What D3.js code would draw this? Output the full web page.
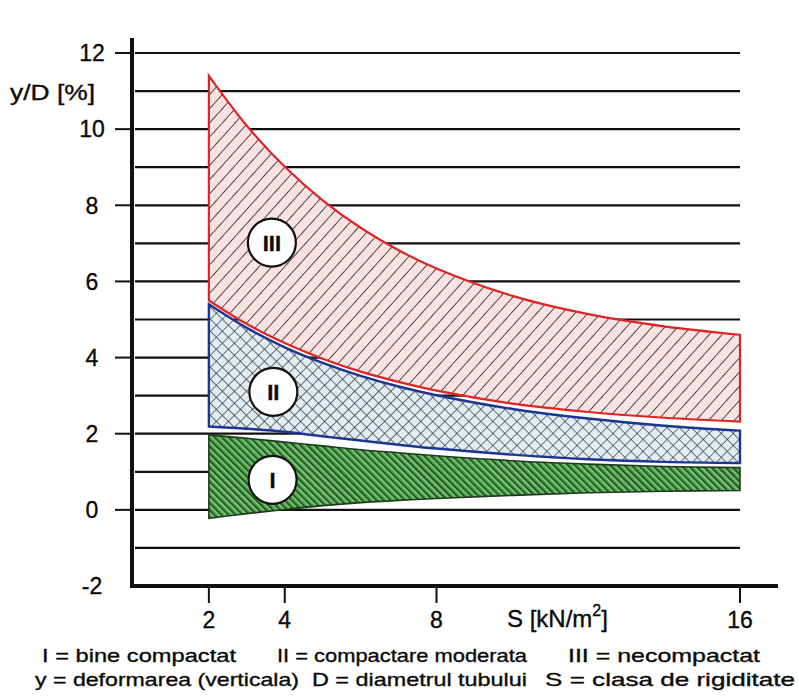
<!DOCTYPE html>
<html><head><meta charset="utf-8">
<script src="https://cdn.jsdelivr.net/npm/d3@7"></script>
<style>body{margin:0;background:#fff}svg{display:block}text{font-family:"Liberation Sans",Arial,sans-serif;fill:#0a0a0a;stroke:#0a0a0a;stroke-width:0.35}</style>
</head><body>
<svg id="c" width="798" height="698"></svg>
<script>
// ---- data ----
const sValues = [2, 3, 4, 5, 6, 7, 8, 10, 12, 14, 16];
const zoneIIITop = [11.4, 10.09, 9.01, 8.13, 7.41, 6.82, 6.34, 5.62, 5.14, 4.82, 4.6];
const zoneIIIBottom = [5.5, 4.88, 4.38, 3.97, 3.63, 3.36, 3.13, 2.79, 2.57, 2.42, 2.32];
const zoneIITop = [5.4, 4.78, 4.27, 3.86, 3.52, 3.24, 3.01, 2.65, 2.4, 2.21, 2.08];
const zoneIIBottom = [2.19, 2.13, 2.05, 1.93, 1.82, 1.71, 1.61, 1.45, 1.33, 1.26, 1.23];
const zoneITop = [1.97, 1.88, 1.78, 1.68, 1.58, 1.5, 1.42, 1.29, 1.2, 1.14, 1.11];
const zoneIBottom = [-0.22, -0.1, 0.01, 0.11, 0.19, 0.25, 0.3, 0.38, 0.45, 0.49, 0.51];
const zoneNames = ["I", "II", "III"];
const zoneLabelS = [3.68, 3.7, 3.66];
const zoneLabelY = [0.79, 3.1, 7.02];
const yTicks = [-2, 0, 2, 4, 6, 8, 10, 12];
const yGrid = [-1, 0, 1, 2, 3, 4, 5, 6, 7, 8, 9, 10, 11, 12];
const xTicks = [2, 4, 8, 16];
const legendRow1 = ["I = bine compactat", "II = compactare moderata", "III = necompactat"];
const legendRow2 = ["y = deformarea (verticala)", "D = diametrul tubului", "S = clasa de rigiditate"];

const svg = d3.select("#c");
const x = d3.scaleLinear().domain([0, 16]).range([133, 740]);
const y = d3.scaleLinear().domain([-2, 12]).range([586, 53]);

// patterns
const defs = svg.append("defs");
const p3 = defs.append("pattern").attr("id","hatch3").attr("patternUnits","userSpaceOnUse")
  .attr("width",9.5).attr("height",9.5).attr("patternTransform","rotate(42)");
p3.append("rect").attr("width",9.5).attr("height",9.5).attr("fill","#fbe2e2");
p3.append("line").attr("x1",0).attr("y1",0).attr("x2",0).attr("y2",9.5).attr("stroke","#222").attr("stroke-width",1.6);
const p2 = defs.append("pattern").attr("id","hatch2").attr("patternUnits","userSpaceOnUse")
  .attr("width",8.5).attr("height",8.5).attr("patternTransform","rotate(45)");
p2.append("rect").attr("width",8.5).attr("height",8.5).attr("fill","#e2ecf5");
p2.append("line").attr("x1",0).attr("y1",0).attr("x2",0).attr("y2",8.5).attr("stroke","#2a2a2a").attr("stroke-width",1.3);
p2.append("line").attr("x1",0).attr("y1",0).attr("x2",8.5).attr("y2",0).attr("stroke","#2a2a2a").attr("stroke-width",1.3);
const p1 = defs.append("pattern").attr("id","hatch1").attr("patternUnits","userSpaceOnUse")
  .attr("width",5).attr("height",5).attr("patternTransform","rotate(-45)");
p1.append("rect").attr("width",5).attr("height",5).attr("fill","#46a046");
p1.append("line").attr("x1",0).attr("y1",0).attr("x2",0).attr("y2",5).attr("stroke","#d2efc4").attr("stroke-width",1.2);
p1.append("line").attr("x1",2.5).attr("y1",0).attr("x2",2.5).attr("y2",5).attr("stroke","#1b3a1b").attr("stroke-width",1.1);

// grid
svg.append("g").selectAll("line").data(yGrid).join("line")
  .attr("x1", x(0)+2).attr("x2", x(16)).attr("y1", d=>y(d)).attr("y2", d=>y(d))
  .attr("stroke","#111").attr("stroke-width",2.2);

// zones
function zone(top, bottom){
  return d3.area().x((d,i)=>x(sValues[i])).y0((d,i)=>y(bottom[i])).y1((d,i)=>y(top[i])).curve(d3.curveCatmullRom.alpha(0.5))(sValues);
}
svg.append("path").attr("d", zone(zoneITop, zoneIBottom)).attr("fill","url(#hatch1)").attr("stroke","#1f3a1f").attr("stroke-width",1.6);
svg.append("path").attr("d", zone(zoneIITop, zoneIIBottom)).attr("fill","url(#hatch2)").attr("stroke","#1c3590").attr("stroke-width",2.4);
svg.append("path").attr("d", zone(zoneIIITop, zoneIIIBottom)).attr("fill","url(#hatch3)").attr("stroke","#e02424").attr("stroke-width",2.2);

// zone labels
const lg = svg.append("g").selectAll("g").data(zoneNames).join("g")
  .attr("transform",(d,i)=>`translate(${x(zoneLabelS[i])},${y(zoneLabelY[i])})`);
lg.append("circle").attr("r",24).attr("fill","#fff").attr("stroke","#111").attr("stroke-width",2.2);
lg.append("text").attr("text-anchor","middle").attr("dy","0.36em").attr("font-size",22).attr("font-weight","bold").text(d=>d);

// axes
svg.append("line").attr("x1",132).attr("x2",132).attr("y1",38).attr("y2",588).attr("stroke","#111").attr("stroke-width",4);
svg.append("line").attr("x1",130).attr("x2",778).attr("y1",586).attr("y2",586).attr("stroke","#111").attr("stroke-width",4);
svg.append("g").selectAll("line").data(yTicks.filter(d=>d>-2)).join("line")
  .attr("x1",115).attr("x2",132).attr("y1",d=>y(d)).attr("y2",d=>y(d)).attr("stroke","#111").attr("stroke-width",2);
svg.append("g").selectAll("text").data(yTicks).join("text")
  .attr("x",92).attr("y",d=>y(d)).attr("dy","0.36em").attr("text-anchor","middle").attr("font-size",23).text(d=>d);
svg.append("g").selectAll("line").data(xTicks).join("line")
  .attr("x1",d=>x(d)).attr("x2",d=>x(d)).attr("y1",588).attr("y2",603).attr("stroke","#111").attr("stroke-width",2);
svg.append("g").selectAll("text").data(xTicks).join("text")
  .attr("x",d=>x(d)).attr("y",628).attr("text-anchor","middle").attr("font-size",23).text(d=>d);
const st = svg.append("text").attr("x",507).attr("y",627).attr("font-size",24);
st.append("tspan").text("S [kN/m");
st.append("tspan").attr("font-size",16).attr("dy",-11).text("2");
st.append("tspan").attr("dy",11).text("]");
svg.append("text").attr("x",10).attr("y",100).attr("font-size",22).attr("textLength",85).attr("lengthAdjust","spacingAndGlyphs").text("y/D [%]");

// legend text
const r1x = [42, 277, 568], r1w = [194, 250, 192];
svg.append("g").selectAll("text").data(legendRow1).join("text")
  .attr("x",(d,i)=>r1x[i]).attr("y",662).attr("font-size",19)
  .attr("textLength",(d,i)=>r1w[i]).attr("lengthAdjust","spacingAndGlyphs").text(d=>d);
const r2x = [35, 312, 545], r2w = [264, 215, 250];
svg.append("g").selectAll("text").data(legendRow2).join("text")
  .attr("x",(d,i)=>r2x[i]).attr("y",686).attr("font-size",19)
  .attr("textLength",(d,i)=>r2w[i]).attr("lengthAdjust","spacingAndGlyphs").text(d=>d);
</script>
</body></html>
